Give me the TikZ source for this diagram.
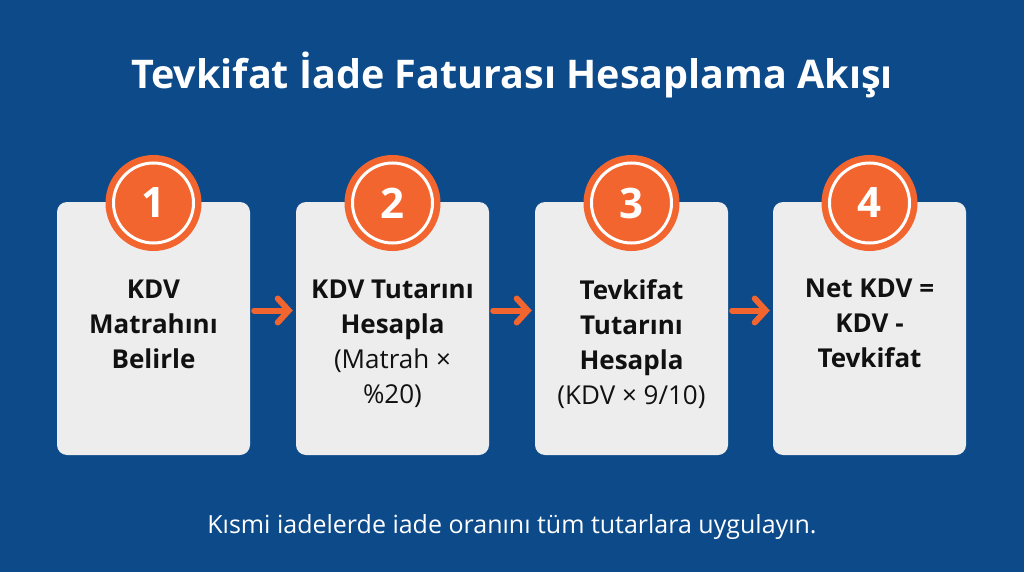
\documentclass[tikz,border=0pt]{standalone}
\usepackage{fontspec}
\setmainfont{Open Sans}
\usetikzlibrary{arrows.meta}
\definecolor{bgblue}{HTML}{0C4A8A}
\definecolor{orng}{HTML}{F2652F}
\definecolor{boxgray}{HTML}{EDEDEE}
\definecolor{txt}{HTML}{111111}
\tikzset{
  stepbox/.style={fill=boxgray, rounded corners=10pt, minimum width=193pt, minimum height=253pt, inner sep=0pt},
  badge/.style={circle, fill=orng, minimum size=96pt, inner sep=0pt, text=white, font=\fontsize{42}{44}\selectfont\bfseries},
  ring/.style={circle, draw=white, line width=3pt, minimum size=80pt, inner sep=0pt},
  steptext/.style={anchor=north, align=center, inner sep=0pt, text=txt, font=\fontsize{26}{35}\selectfont},
  flow/.style={draw=orng, line width=6pt, line cap=round, -{Straight Barb[length=11pt,width=24pt,line cap=round]}},
}
\begin{document}
\begin{tikzpicture}[x=1pt,y=-1pt]
\fill[bgblue] (0,0) rectangle (1024,572);
\useasboundingbox (0,0) rectangle (1024,572);
\node[text=white, font=\fontsize{39.5}{44}\selectfont\bfseries] (title) at (512,75) {Tevkifat İade Faturası Hesaplama Akışı};
\node[stepbox] (b1) at (153.5,328.5) {};
\node[stepbox] (b2) at (392.5,328.5) {};
\node[stepbox] (b3) at (631.5,328.5) {};
\node[stepbox] (b4) at (869.5,328.5) {};
\foreach \i/\x in {1/153.5,2/392.5,3/631.5,4/869.5}{
  \node[badge] (c\i) at (\x,203) {\i};
  \node[ring] (r\i) at (\x,203) {};
}
\node[steptext] (t1) at (153.5,280) {\textbf{KDV}\\\textbf{Matrahını}\\\textbf{Belirle}};
\node[steptext] (t2) at (392.5,280) {\textbf{KDV Tutarını}\\\textbf{Hesapla}\\(Matrah ×\\\%20)};
\node[steptext] (t3) at (631.5,279) {\textbf{Tevkifat}\\\textbf{Tutarını}\\\textbf{Hesapla}\\(KDV × 9/10)};
\node[steptext] (t4) at (869.5,279) {\textbf{Net KDV =}\\\textbf{KDV -}\\\textbf{Tevkifat}};
\draw[flow] ([xshift=4pt,yshift=18pt]b1.east) -- ([xshift=-3pt,yshift=18pt]b2.west);
\draw[flow] ([xshift=4pt,yshift=18pt]b2.east) -- ([xshift=-3pt,yshift=18pt]b3.west);
\draw[flow] ([xshift=4pt,yshift=18pt]b3.east) -- ([xshift=-3pt,yshift=18pt]b4.west);
\node[text=white, font=\fontsize{25}{28}\selectfont] (foot) at (512,527) {Kısmi iadelerde iade oranını tüm tutarlara uygulayın.};
\end{tikzpicture}
\end{document}
